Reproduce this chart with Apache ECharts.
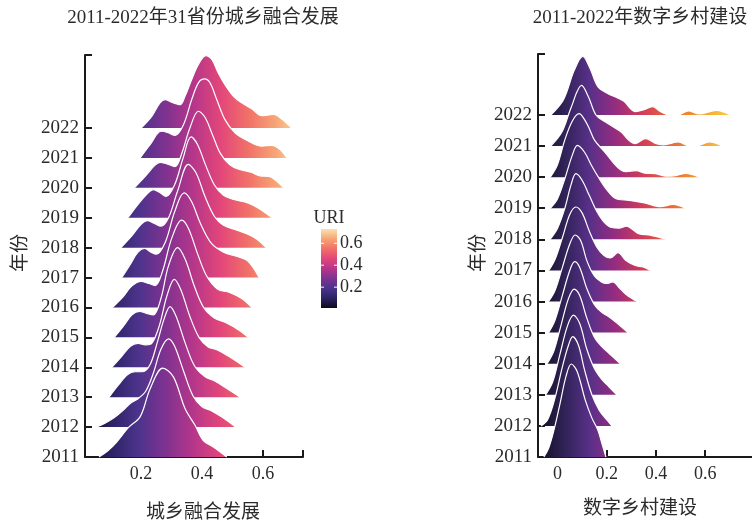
<!DOCTYPE html>
<html>
<head>
<meta charset="utf-8">
<script src="https://cdn.jsdelivr.net/npm/echarts@6/dist/echarts.min.js"></script>
<style>
  html, body { margin: 0; padding: 0; background: #fff; }
  #chart { width: 752px; height: 525px; }
</style>
</head>
<body>
<div id="chart"></div>
<script>
// Year categories, bottom row first
const years = ['2011','2012','2013','2014','2015','2016','2017','2018','2019','2020','2021','2022'];

// Tick values
const uriTicks = [0.2, 0.4, 0.6];
const digTicks = [0, 0.2, 0.4, 0.6];
const legendTicks = [0.2, 0.4, 0.6];

// Ridge profiles for the urban-rural integration index: [value, ridge height in row units]
const uri2011 = [[0.062,0],[0.090,0.20],[0.120,0.50],[0.158,0.98],[0.197,1.35],[0.230,2.29],[0.271,2.97],[0.306,2.68],[0.344,1.62],[0.377,1.06],[0.404,0.55],[0.437,0.33],[0.481,0]];
const uri2012 = [[0.052,0],[0.080,0.12],[0.110,0.30],[0.140,0.55],[0.165,0.80],[0.190,0.95],[0.215,1.20],[0.240,1.80],[0.265,2.60],[0.290,2.95],[0.310,2.70],[0.340,1.85],[0.370,1.05],[0.400,0.68],[0.430,0.55],[0.470,0.30],[0.510,0]];
const uri2013 = [[0.095,0],[0.125,0.40],[0.155,0.75],[0.180,0.85],[0.205,0.85],[0.230,1.10],[0.255,1.90],[0.275,2.60],[0.295,3.03],[0.315,2.70],[0.345,1.80],[0.375,1.05],[0.410,0.68],[0.440,0.55],[0.480,0.30],[0.525,0]];
const uri2014 = [[0.104,0],[0.135,0.35],[0.165,0.70],[0.190,0.80],[0.215,0.75],[0.235,0.80],[0.260,1.40],[0.285,2.40],[0.309,2.94],[0.330,2.60],[0.360,1.70],[0.390,1.00],[0.420,0.68],[0.450,0.58],[0.490,0.35],[0.541,0]];
const uri2015 = [[0.112,0],[0.140,0.35],[0.170,0.75],[0.195,0.87],[0.218,0.80],[0.240,0.75],[0.265,1.30],[0.290,2.40],[0.320,3.00],[0.345,2.60],[0.375,1.70],[0.405,1.00],[0.440,0.65],[0.480,0.48],[0.520,0.25],[0.552,0]];
const uri2016 = [[0.106,0],[0.140,0.35],[0.170,0.72],[0.200,0.87],[0.225,0.80],[0.246,0.73],[0.270,1.20],[0.300,2.30],[0.333,2.92],[0.355,2.65],[0.385,1.80],[0.415,1.05],[0.450,0.62],[0.490,0.50],[0.530,0.30],[0.563,0]];
const uri2017 = [[0.137,0],[0.165,0.45],[0.190,0.85],[0.212,0.97],[0.232,0.85],[0.250,0.78],[0.280,1.20],[0.310,2.20],[0.341,2.83],[0.365,2.55],[0.395,1.80],[0.430,1.15],[0.470,0.85],[0.510,0.72],[0.550,0.55],[0.587,0]];
const uri2018 = [[0.134,0],[0.170,0.40],[0.200,0.78],[0.222,0.90],[0.245,0.80],[0.265,0.72],[0.290,1.00],[0.320,1.90],[0.355,2.78],[0.380,2.50],[0.410,1.70],[0.440,1.05],[0.470,0.75],[0.510,0.60],[0.550,0.45],[0.580,0.28],[0.610,0]];
const uri2019 = [[0.157,0],[0.190,0.45],[0.225,0.85],[0.240,0.94],[0.260,0.85],[0.282,0.71],[0.310,1.10],[0.338,2.00],[0.364,2.70],[0.385,2.45],[0.410,1.80],[0.440,1.10],[0.470,0.75],[0.500,0.62],[0.552,0.49],[0.585,0.32],[0.630,0]];
const uri2020 = [[0.178,0],[0.215,0.40],[0.245,0.75],[0.262,0.85],[0.285,0.80],[0.311,0.71],[0.335,1.20],[0.360,2.00],[0.388,2.56],[0.410,2.35],[0.435,1.75],[0.460,1.15],[0.490,0.78],[0.520,0.62],[0.560,0.52],[0.590,0.40],[0.620,0.38],[0.645,0.22],[0.668,0]];
const uri2021 = [[0.197,0],[0.230,0.45],[0.266,0.89],[0.289,0.84],[0.311,0.75],[0.339,1.11],[0.366,1.95],[0.388,2.51],[0.408,2.64],[0.426,2.51],[0.448,1.95],[0.475,1.28],[0.508,0.84],[0.552,0.56],[0.596,0.39],[0.629,0.42],[0.656,0.28],[0.678,0]];
const uri2022 = [[0.200,0],[0.235,0.39],[0.262,0.84],[0.279,0.95],[0.300,0.86],[0.328,0.78],[0.344,1.06],[0.366,1.62],[0.388,2.12],[0.412,2.42],[0.432,2.29],[0.453,1.84],[0.475,1.45],[0.503,1.06],[0.530,0.84],[0.563,0.64],[0.596,0.41],[0.634,0.45],[0.661,0.30],[0.694,0]];

// Ridge profiles for digital village construction: [value, ridge height in row units]
const dig2011 = [[-0.055,0],[-0.035,0.30],[-0.014,0.87],[0.010,1.70],[0.035,2.60],[0.056,2.99],[0.080,2.75],[0.113,1.83],[0.140,1.25],[0.164,0.87],[0.180,0.45],[0.197,0]];
const dig2012 = [[-0.067,0],[-0.040,0.20],[-0.010,0.90],[0.020,1.90],[0.045,2.60],[0.062,2.87],[0.085,2.60],[0.110,1.80],[0.140,1.00],[0.170,0.50],[0.200,0.20],[0.221,0]];
const dig2013 = [[-0.048,0],[-0.020,0.40],[0.010,1.30],[0.040,2.20],[0.065,2.56],[0.090,2.30],[0.120,1.45],[0.150,0.85],[0.180,0.50],[0.210,0.25],[0.241,0]];
const dig2014 = [[-0.042,0],[-0.015,0.40],[0.015,1.25],[0.045,2.10],[0.068,2.40],[0.090,2.20],[0.120,1.45],[0.150,0.85],[0.180,0.55],[0.210,0.33],[0.256,0]];
const dig2015 = [[-0.036,0],[-0.010,0.40],[0.020,1.20],[0.050,2.00],[0.070,2.28],[0.090,2.10],[0.120,1.40],[0.150,0.90],[0.180,0.65],[0.210,0.50],[0.244,0.29],[0.286,0]];
const dig2016 = [[-0.036,0],[-0.010,0.35],[0.020,1.10],[0.050,1.85],[0.072,2.14],[0.095,1.95],[0.120,1.30],[0.150,0.82],[0.180,0.62],[0.200,0.58],[0.225,0.63],[0.250,0.45],[0.280,0.22],[0.324,0]];
const dig2017 = [[-0.035,0],[-0.010,0.35],[0.020,1.05],[0.050,1.80],[0.075,2.04],[0.100,1.85],[0.130,1.25],[0.160,0.75],[0.189,0.48],[0.214,0.40],[0.246,0.57],[0.278,0.32],[0.316,0.16],[0.348,0.11],[0.377,0]];
const dig2018 = [[-0.030,0],[0.000,0.35],[0.030,1.00],[0.055,1.75],[0.075,2.11],[0.100,1.90],[0.130,1.40],[0.160,0.90],[0.190,0.55],[0.220,0.38],[0.250,0.36],[0.280,0.42],[0.305,0.32],[0.330,0.18],[0.380,0.13],[0.444,0]];
const dig2019 = [[-0.029,0],[0.000,0.30],[0.030,0.95],[0.060,1.70],[0.081,2.02],[0.110,1.80],[0.140,1.35],[0.170,0.95],[0.200,0.60],[0.234,0.32],[0.291,0.25],[0.354,0.17],[0.418,0.05],[0.469,0.12],[0.519,0]];
const dig2020 = [[-0.029,0],[0.000,0.40],[0.030,1.20],[0.060,1.80],[0.088,2.04],[0.110,1.85],[0.130,1.55],[0.151,1.18],[0.193,0.80],[0.244,0.32],[0.278,0.18],[0.320,0.21],[0.354,0.13],[0.398,0.11],[0.443,0.03],[0.480,0.05],[0.521,0.12],[0.576,0]];
const dig2021 = [[-0.027,0],[0.018,0.45],[0.056,1.25],[0.098,1.95],[0.126,1.58],[0.157,0.99],[0.195,0.77],[0.234,0.58],[0.259,0.45],[0.291,0.18],[0.316,0.08],[0.358,0.24],[0.398,0.08],[0.430,0.04],[0.491,0.13],[0.535,0],[0.563,0],[0.618,0.13],[0.669,0]];
const dig2022 = [[-0.027,0],[0.024,0.48],[0.069,1.45],[0.103,1.88],[0.132,1.50],[0.164,0.91],[0.202,0.70],[0.246,0.54],[0.270,0.44],[0.316,0.11],[0.348,0.16],[0.386,0.27],[0.418,0.11],[0.452,0],[0.488,0],[0.532,0.13],[0.576,0.03],[0.646,0.15],[0.703,0]];

// Colour scales (evenly spaced stops over each range)
const uriRange = [0.01, 0.73];
const uriColors = ['#0d0a1a','#2c2264','#4c338c','#7f3290','#b5368a','#e2467a','#f17068','#f6a474','#fbe2ae'];
const digRange = [-0.08, 0.76];
const digColors = ['#120d1c','#2f2256','#583088','#962c80','#cf3c5a','#e86040','#f2902c','#f7bc3c','#fde060'];

const uriList = [uri2011,uri2012,uri2013,uri2014,uri2015,uri2016,uri2017,uri2018,uri2019,uri2020,uri2021,uri2022];
const digList = [dig2011,dig2012,dig2013,dig2014,dig2015,dig2016,dig2017,dig2018,dig2019,dig2020,dig2021,dig2022];

const serif = "'Liberation Serif', 'Noto Sans CJK SC', serif";
const ink = '#2b2b2b';

// One filled line per year; the latest year is added first so earlier rows overlap it.
function ridges(list, axisIdx) {
  const out = [];
  for (let k = list.length - 1; k >= 0; k--) {
    out.push({
      type: 'line',
      name: years[k],
      xAxisIndex: axisIdx,
      yAxisIndex: axisIdx,
      data: list[k].map(p => [p[0], k + p[1]]),
      smooth: 0.35,
      symbol: 'none',
      silent: true,
      clip: false,
      lineStyle: { color: '#ffffff', width: 1.2 },
      areaStyle: { origin: k, opacity: 1 }
    });
  }
  return out;
}

function axisCommon() {
  return {
    axisLine: { show: true, onZero: false, lineStyle: { color: '#1a1a1a', width: 2 } },
    axisTick: { show: true, inside: true, length: 7, lineStyle: { color: '#1a1a1a', width: 2 } },
    splitLine: { show: false },
    axisLabel: { color: ink, fontFamily: serif, fontSize: 18 }
  };
}

const fmtX = v => (v === 0 ? '0' : v.toFixed(1));
const fmtY = v => years[Math.round(v)] || '';

const uriSeries = ridges(uriList, 0);
const digSeries = ridges(digList, 1);
const idx = (n, off) => Array.from({ length: n }, (_, i) => i + off);

const uriX = Object.assign(axisCommon(), { type: 'value', gridIndex: 0, min: 0.016, max: 0.731 });
uriX.axisTick = Object.assign({}, uriX.axisTick, { customValues: uriTicks.concat([0.731]) });
uriX.axisLabel = Object.assign({}, uriX.axisLabel, { customValues: uriTicks, formatter: fmtX, margin: 8 });

const digX = Object.assign(axisCommon(), { type: 'value', gridIndex: 1, min: -0.079, max: 0.79 });
digX.axisTick = Object.assign({}, digX.axisTick, { customValues: digTicks });
digX.axisLabel = Object.assign({}, digX.axisLabel, { customValues: digTicks, formatter: fmtX, margin: 8 });

const rowVals = years.map((_, i) => i);
const uriY = Object.assign(axisCommon(), { type: 'value', gridIndex: 0, min: 0, max: 13.44 });
uriY.axisTick = Object.assign({}, uriY.axisTick, { customValues: rowVals.concat([13.44]) });
uriY.axisLabel = Object.assign({}, uriY.axisLabel, { customValues: rowVals, formatter: fmtY, margin: 6, fontSize: 19 });

const digY = Object.assign(axisCommon(), { type: 'value', gridIndex: 1, min: 0, max: 12.96 });
digY.axisTick = Object.assign({}, digY.axisTick, { customValues: rowVals.concat([12.96]) });
digY.axisLabel = Object.assign({}, digY.axisLabel, { customValues: rowVals, formatter: fmtY, margin: 6, fontSize: 19 });

// Colour bar for the URI scale
const barX = 321, barY = 229, barW = 16, barH = 79;
const barStops = uriColors.map((c, i) => ({ offset: i / (uriColors.length - 1), color: c }));
const legendEls = [
  { type: 'rect', shape: { x: barX, y: barY, width: barW, height: barH },
    style: { fill: new echarts.graphic.LinearGradient(0, 1, 0, 0, barStops) }, silent: true },
  { type: 'text', x: 329, y: 218, style: { text: 'URI', fill: ink, font: '18px ' + serif, align: 'center', verticalAlign: 'middle' } }
];
legendTicks.forEach(v => {
  const y = barY + barH - (v - uriRange[0]) / (uriRange[1] - uriRange[0]) * barH;
  legendEls.push({ type: 'line', shape: { x1: barX, y1: y, x2: barX + 3, y2: y }, style: { stroke: '#fff', lineWidth: 1 }, silent: true });
  legendEls.push({ type: 'line', shape: { x1: barX + barW - 3, y1: y, x2: barX + barW, y2: y }, style: { stroke: '#fff', lineWidth: 1 }, silent: true });
  legendEls.push({ type: 'text', x: barX + barW + 3, y: y, style: { text: v.toFixed(1), fill: ink, font: '18px ' + serif, align: 'left', verticalAlign: 'middle' } });
});

const textEls = [
  { type: 'text', x: 203, y: 18, style: { text: '2011-2022年31省份城乡融合发展', fill: ink, font: '19px ' + serif, align: 'center', verticalAlign: 'middle' } },
  { type: 'text', x: 640, y: 18, style: { text: '2011-2022年数字乡村建设', fill: ink, font: '19px ' + serif, align: 'center', verticalAlign: 'middle' } },
  { type: 'text', x: 203, y: 513, style: { text: '城乡融合发展', fill: ink, font: '19px ' + serif, align: 'center', verticalAlign: 'middle' } },
  { type: 'text', x: 640, y: 509, style: { text: '数字乡村建设', fill: ink, font: '19px ' + serif, align: 'center', verticalAlign: 'middle' } },
  { type: 'text', x: 21, y: 253, rotation: Math.PI / 2, style: { text: '年份', fill: ink, font: '19px ' + serif, align: 'center', verticalAlign: 'middle' } },
  { type: 'text', x: 479, y: 253, rotation: Math.PI / 2, style: { text: '年份', fill: ink, font: '19px ' + serif, align: 'center', verticalAlign: 'middle' } }
];

const chart = echarts.init(document.getElementById('chart'));
chart.setOption({
  animation: false,
  backgroundColor: '#ffffff',
  grid: [
    { left: 85, top: 55, width: 218, height: 402 },
    { left: 538, top: 54, width: 228, height: 403 }
  ],
  xAxis: [uriX, digX],
  yAxis: [uriY, digY],
  visualMap: [
    { type: 'continuous', show: false, dimension: 0, seriesIndex: idx(12, 0),
      min: uriRange[0], max: uriRange[1], inRange: { color: uriColors } },
    { type: 'continuous', show: false, dimension: 0, seriesIndex: idx(12, 12),
      min: digRange[0], max: digRange[1], inRange: { color: digColors } }
  ],
  graphic: legendEls.concat(textEls),
  series: uriSeries.concat(digSeries)
});
</script>
</body>
</html>
